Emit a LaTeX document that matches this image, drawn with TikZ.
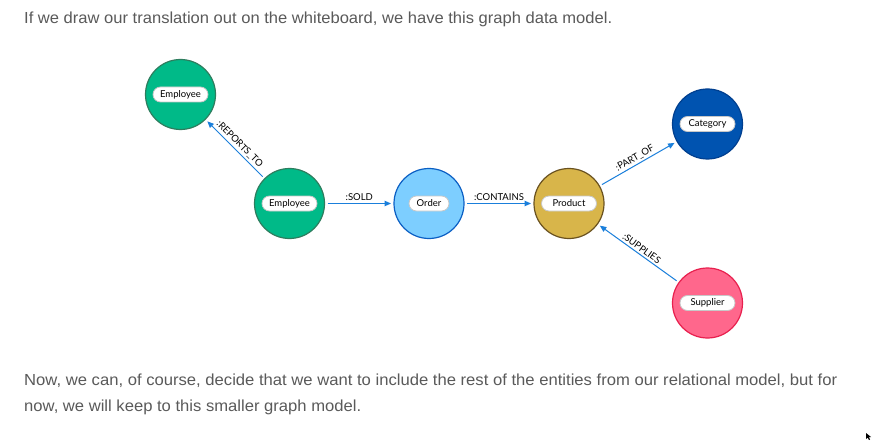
\documentclass[tikz,border=0pt]{standalone}
\usepackage{fontspec}
\setmainfont{Liberation Sans}
\newfontfamily\nodefont{Lato}
\usetikzlibrary{arrows.meta}
\definecolor{txtgray}{HTML}{5A5A5A}
\definecolor{empfill}{HTML}{00BA88}
\definecolor{empdraw}{HTML}{2E7D5E}
\definecolor{ordfill}{HTML}{7DCEFF}
\definecolor{orddraw}{HTML}{0B5FC4}
\definecolor{prodfill}{HTML}{D8B54A}
\definecolor{proddraw}{HTML}{6A5220}
\definecolor{catfill}{HTML}{0053B0}
\definecolor{catdraw}{HTML}{003F8F}
\definecolor{supfill}{HTML}{FF678C}
\definecolor{supdraw}{HTML}{E8204E}
\definecolor{edgeblue}{HTML}{1A7FDB}
\definecolor{pillborder}{HTML}{C8C8C8}
\tikzset{
  entity/.style={circle, draw, line width=1.2pt, minimum size=70pt, inner sep=0pt, outer sep=3pt},
  pill/.style={rounded corners=7.5pt, draw=pillborder, fill=white, line width=0.8pt, minimum height=15pt, minimum width=55pt, inner sep=1pt, font=\nodefont\fontsize{9.5}{11}\selectfont, text=black},
  rel/.style={draw=edgeblue, line width=1pt, -{Triangle[length=6.5pt,width=5.5pt]}},
  rellabel/.style={font=\nodefont\fontsize{9.5}{11}\selectfont, text=black, inner sep=2pt},
  bodytext/.style={anchor=base west, inner sep=0pt, text=txtgray, font=\fontsize{16}{19}\selectfont}
}
\begin{document}
\begin{tikzpicture}[x=1pt,y=-1pt]
\useasboundingbox[fill=white] (0,0) rectangle (873,441);
% body text
\node[bodytext] (t1) at (24,24) {\resizebox{588pt}{\height}{If we draw our translation out on the whiteboard, we have this graph data model.}};
\node[bodytext] (t2) at (24,385) {\resizebox{813pt}{\height}{Now, we can, of course, decide that we want to include the rest of the entities from our relational model, but for}};
\node[bodytext] (t3) at (24,411) {\resizebox{337pt}{\height}{now, we will keep to this smaller graph model.}};
% entities
\node[entity, fill=empfill, draw=empdraw] (emp1) at (180.5,94.5) {};
\node[entity, fill=empfill, draw=empdraw] (emp2) at (289.5,203.5) {};
\node[entity, fill=ordfill, draw=orddraw] (ord) at (429,203.5) {};
\node[entity, fill=prodfill, draw=proddraw] (prod) at (569,203.5) {};
\node[entity, fill=catfill, draw=catdraw] (cat) at (707.5,124) {};
\node[entity, fill=supfill, draw=supdraw] (sup) at (707.5,303) {};
% pills
\node[pill] (emp1L) at (emp1) {Employee};
\node[pill] (emp2L) at (emp2) {Employee};
\node[pill, minimum width=40pt] (ordL) at (ord) {Order};
\node[pill] (prodL) at (prod) {Product};
\node[pill] (catL) at (cat) {Category};
\node[pill] (supL) at (sup) {Supplier};
% relationships
\draw[rel] (emp2) -- node[rellabel, sloped, above] (l1) {:REPORTS\_TO} (emp1);
\draw[rel] (emp2) -- node[rellabel, above] (l2) {:SOLD} (ord);
\draw[rel] (ord) -- node[rellabel, above] (l3) {:CONTAINS} (prod);
\draw[rel] (prod) -- node[rellabel, sloped, above] (l4) {:PART\_OF} (cat);
\draw[rel] (sup) -- node[rellabel, sloped, above] (l5) {:SUPPLIES} (prod);
% cursor
\fill[black] (866,433) -- (866,439) -- (867.5,437.5) -- (869,440) -- (870,439.5) -- (868.8,437) -- (871,437) -- cycle;
\end{tikzpicture}
\end{document}
